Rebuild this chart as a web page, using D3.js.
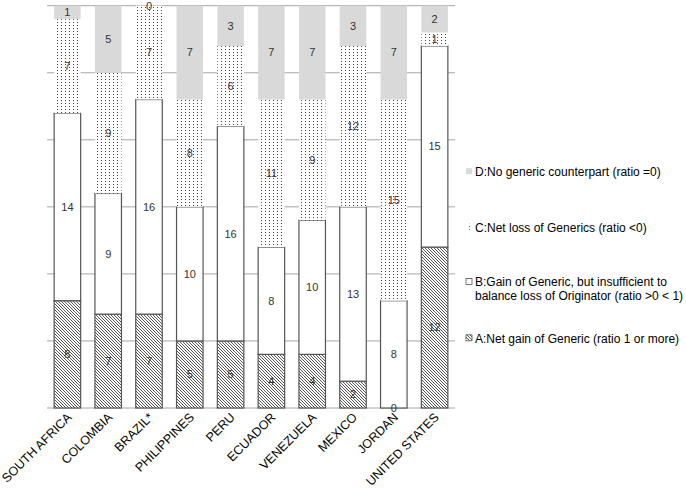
<!DOCTYPE html>
<html><head><meta charset="utf-8">
<script src="https://cdn.jsdelivr.net/npm/d3@7"></script>
<style>body{margin:0;background:#fff}</style>
</head><body>
<svg id="c" width="686" height="492"></svg>
<script>
const categories = ["SOUTH AFRICA","COLOMBIA","BRAZIL*","PHILIPPINES","PERU","ECUADOR","VENEZUELA","MEXICO","JORDAN","UNITED STATES"];
const seriesA = [8,7,7,5,5,4,4,2,0,12];
const seriesB = [14,9,16,10,16,8,10,13,8,15];
const seriesC = [7,9,7,8,6,11,9,12,15,1];
const seriesD = [1,5,0,7,3,7,7,3,7,2];
const seriesKeys = ["A","B","C","D"];
const legendLabels = {
  D: ["D:No generic counterpart (ratio =0)"],
  C: ["C:Net loss of Generics (ratio <0)"],
  B: ["B:Gain of Generic, but insufficient to", "balance loss of Originator (ratio >0 < 1)"],
  A: ["A:Net gain of Generic (ratio 1 or more)"]
};
const yTicks = [0,5,10,15,20,25,30];

const svg = d3.select("#c");
const defs = svg.append("defs");
const hatch = defs.append("pattern").attr("id","hatch").attr("patternUnits","userSpaceOnUse").attr("width",3).attr("height",3);
hatch.append("rect").attr("width",3).attr("height",3).attr("fill","#fff");
hatch.append("path").attr("d","M-1,-1 L4,4 M-1,2 L1,4 M2,-1 L4,1").attr("stroke","#444").attr("stroke-width",0.9);
const dots = defs.append("pattern").attr("id","dots").attr("patternUnits","userSpaceOnUse").attr("width",4).attr("height",3);
dots.append("rect").attr("width",4).attr("height",3).attr("fill","#fff");
dots.append("rect").attr("x",1).attr("y",1).attr("width",1).attr("height",1).attr("fill","#444");

const fills = {A:"url(#hatch)", B:"#fff", C:"url(#dots)", D:"#d9d9d9"};
const strokes = {A:"#555", B:"#555", C:"none", D:"none"};

const x = d3.scaleBand().domain(categories).range([47,455]).paddingInner(0.35).paddingOuter(0.175);
const y = d3.scaleLinear().domain([0,30]).range([408,5.7]);

svg.append("g").selectAll("line").data(yTicks).join("line")
  .attr("x1",47).attr("x2",455).attr("y1",d=>y(d)).attr("y2",d=>y(d))
  .attr("stroke","#a6a6a6").attr("stroke-width",1);

const rows = categories.map((c,i)=>({cat:c, A:seriesA[i], B:seriesB[i], C:seriesC[i], D:seriesD[i]}));
const stacked = d3.stack().keys(seriesKeys)(rows);

const g = svg.append("g");
stacked.forEach(s=>{
  g.append("g").selectAll("rect").data(s).join("rect")
    .attr("x",d=>x(d.data.cat)).attr("width",x.bandwidth())
    .attr("y",d=>y(d[1])).attr("height",d=>y(d[0])-y(d[1]))
    .attr("fill",fills[s.key]).attr("stroke",strokes[s.key]).attr("stroke-width",1.2);
});
stacked.forEach(s=>{
  g.append("g").selectAll("text").data(s).join("text")
    .attr("x",d=>x(d.data.cat)+x.bandwidth()/2)
    .attr("y",d=>(y(d[0])+y(d[1]))/2)
    .attr("dy","0.35em").attr("text-anchor","middle")
    .attr("font-family","Liberation Sans, Arial, sans-serif").attr("font-size",11)
    .attr("fill","#333").text(d=>d.data[s.key]);
});

svg.append("g").selectAll("text").data(categories).join("text")
  .attr("transform",d=>`translate(${x(d)+x.bandwidth()/2+5},${418}) rotate(-45)`)
  .attr("text-anchor","end")
  .attr("font-family","Liberation Sans, Arial, sans-serif").attr("font-size",12.5)
  .attr("fill","#000").text(d=>d);

const legendY = {D:171.7, C:227.3, B:282, A:338.3};
const lg = svg.append("g");
["D","C","B","A"].forEach(k=>{
  const yy = legendY[k];
  lg.append("rect").attr("x",466).attr("y",yy-3.5).attr("width",6).attr("height",6)
    .attr("fill",fills[k]).attr("stroke", k==="A"||k==="B" ? "#555" : "none").attr("stroke-width",0.8);
  legendLabels[k].forEach((t,j)=>{
    lg.append("text").attr("x",475).attr("y",yy+j*14).attr("dy","0.35em")
      .attr("font-family","Liberation Sans, Arial, sans-serif").attr("font-size",12)
      .attr("fill","#000").text(t);
  });
});
</script>
</body></html>
